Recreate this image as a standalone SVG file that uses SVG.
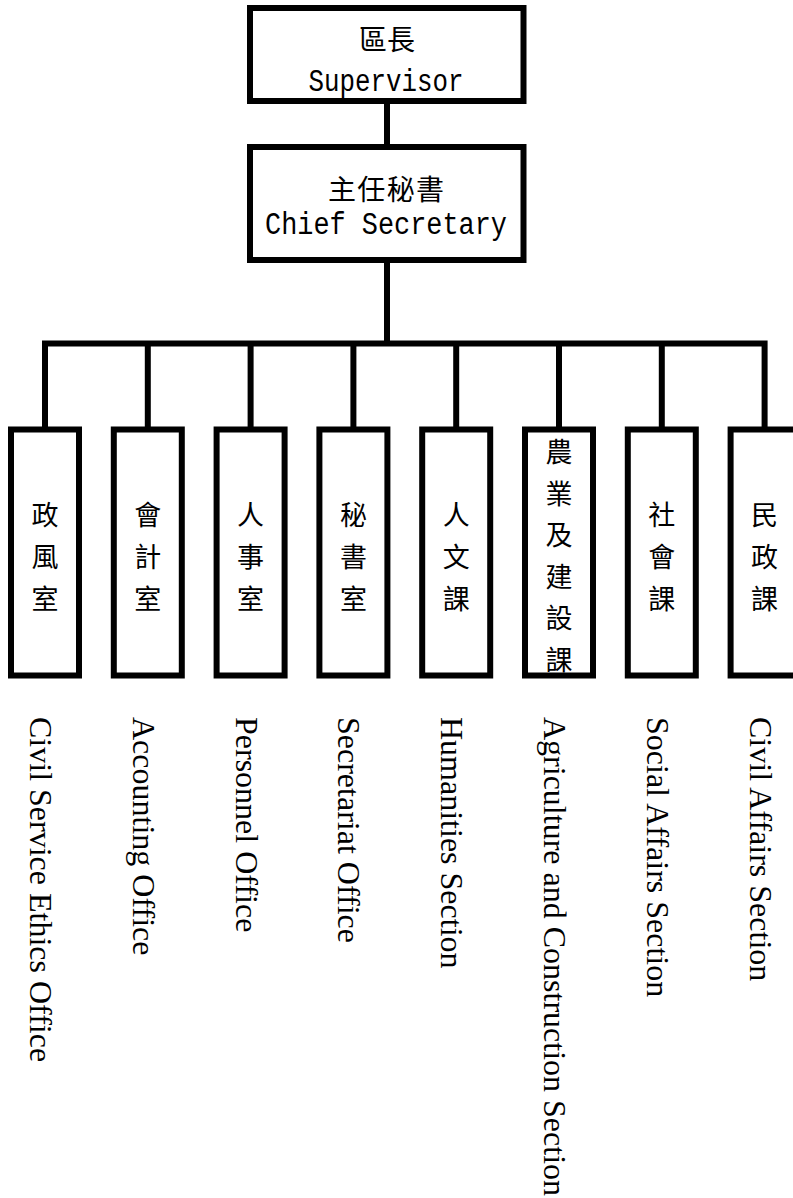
<svg xmlns="http://www.w3.org/2000/svg" width="793" height="1198" viewBox="0 0 793 1198">
<style>
.box{fill:#fff;stroke:#000;stroke-width:6}
.ln{fill:none;stroke:#000;stroke-width:6}
.cjk{font-family:"Noto Sans CJK TC","Noto Sans CJK SC",sans-serif;font-size:27px;fill:#000;text-anchor:middle}
.top{font-family:"Noto Sans CJK TC",sans-serif;font-size:28px;fill:#000;text-anchor:middle}
.mono{font-family:"Liberation Mono",monospace;font-size:31px;fill:#000;text-anchor:middle}
.en{font-family:"Liberation Serif","Times New Roman",serif;font-size:32px;fill:#000}
</style>
<rect width="793" height="1198" fill="#fff"/>
<g id="connectors">
<line class="ln" x1="387" y1="101" x2="387" y2="147"/>
<line class="ln" x1="387" y1="260" x2="387" y2="343.5"/>
<polyline class="ln" points="45,429.5 45,343.5 764.6,343.5 764.6,429.5"/>
<line class="ln" x1="147.8" y1="343.5" x2="147.8" y2="429.5"/>
<line class="ln" x1="250.6" y1="343.5" x2="250.6" y2="429.5"/>
<line class="ln" x1="353.4" y1="343.5" x2="353.4" y2="429.5"/>
<line class="ln" x1="456.2" y1="343.5" x2="456.2" y2="429.5"/>
<line class="ln" x1="559" y1="343.5" x2="559" y2="429.5"/>
<line class="ln" x1="661.8" y1="343.5" x2="661.8" y2="429.5"/>
</g>
<g id="supervisor">
<rect class="box" x="250" y="8" width="273.5" height="93"/>
<text class="top" x="387" y="50">區長</text>
<text class="mono" x="386" y="91" textLength="155" lengthAdjust="spacingAndGlyphs">Supervisor</text>
</g>
<g id="chief-secretary">
<rect class="box" x="250" y="147" width="273.5" height="113"/>
<text class="top" x="386" y="200" textLength="116">主任秘書</text>
<text class="mono" x="386" y="234" textLength="242" lengthAdjust="spacingAndGlyphs">Chief Secretary</text>
</g>
<g id="ethics">
<rect class="box" x="11" y="429.5" width="68" height="246"/>
<text class="cjk"><tspan x="45" y="525">政</tspan><tspan x="45" y="567">風</tspan><tspan x="45" y="609">室</tspan></text>
<text class="en" x="717" y="-30" transform="rotate(90)">Civil Service Ethics Office</text>
</g>
<g id="accounting">
<rect class="box" x="113.8" y="429.5" width="68" height="246"/>
<text class="cjk"><tspan x="147.8" y="525">會</tspan><tspan x="147.8" y="567">計</tspan><tspan x="147.8" y="609">室</tspan></text>
<text class="en" x="717" y="-132.8" transform="rotate(90)">Accounting Office</text>
</g>
<g id="personnel">
<rect class="box" x="216.6" y="429.5" width="68" height="246"/>
<text class="cjk"><tspan x="250.6" y="525">人</tspan><tspan x="250.6" y="567">事</tspan><tspan x="250.6" y="609">室</tspan></text>
<text class="en" x="717" y="-235.6" transform="rotate(90)">Personnel Office</text>
</g>
<g id="secretariat">
<rect class="box" x="319.4" y="429.5" width="68" height="246"/>
<text class="cjk"><tspan x="353.4" y="525">秘</tspan><tspan x="353.4" y="567">書</tspan><tspan x="353.4" y="609">室</tspan></text>
<text class="en" x="717" y="-338.4" transform="rotate(90)">Secretariat Office</text>
</g>
<g id="humanities">
<rect class="box" x="422.2" y="429.5" width="68" height="246"/>
<text class="cjk"><tspan x="456.2" y="525">人</tspan><tspan x="456.2" y="567">文</tspan><tspan x="456.2" y="609">課</tspan></text>
<text class="en" x="717" y="-441.2" transform="rotate(90)">Humanities Section</text>
</g>
<g id="agriculture">
<rect class="box" x="525" y="429.5" width="68" height="246"/>
<text class="cjk"><tspan x="559" y="462">農</tspan><tspan x="559" y="503.6">業</tspan><tspan x="559" y="545.2">及</tspan><tspan x="559" y="586.8">建</tspan><tspan x="559" y="628.4">設</tspan><tspan x="559" y="670">課</tspan></text>
<text class="en" x="717" y="-544" transform="rotate(90)">Agriculture and Construction Section</text>
</g>
<g id="social">
<rect class="box" x="627.8" y="429.5" width="68" height="246"/>
<text class="cjk"><tspan x="661.8" y="525">社</tspan><tspan x="661.8" y="567">會</tspan><tspan x="661.8" y="609">課</tspan></text>
<text class="en" x="717" y="-646.8" transform="rotate(90)">Social Affairs Section</text>
</g>
<g id="civil-affairs">
<rect class="box" x="730.6" y="429.5" width="68" height="246"/>
<text class="cjk"><tspan x="764.6" y="525">民</tspan><tspan x="764.6" y="567">政</tspan><tspan x="764.6" y="609">課</tspan></text>
<text class="en" x="717" y="-749.6" transform="rotate(90)">Civil Affairs Section</text>
</g>
</svg>
